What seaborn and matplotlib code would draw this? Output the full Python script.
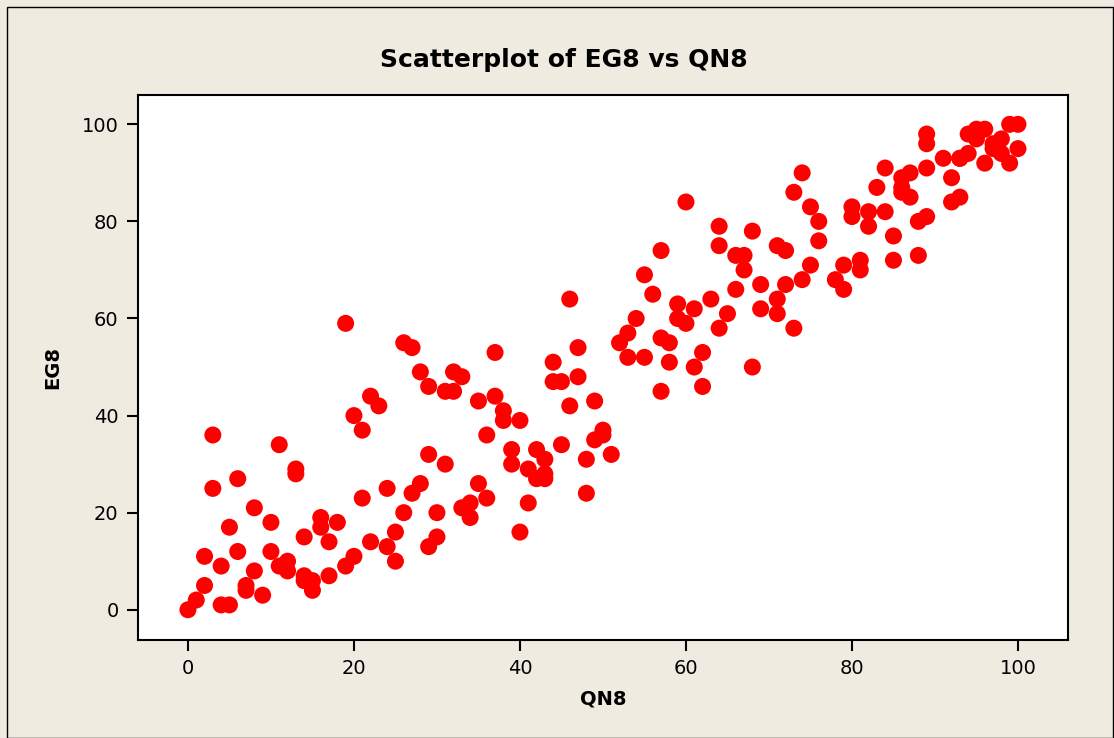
import numpy as np
import pandas as pd
import matplotlib
matplotlib.use("Agg")
import matplotlib.pyplot as plt
import seaborn as sns
from matplotlib.patches import Rectangle

# QN8 / EG8 values
qn8 = [0, 1, 2, 2, 3, 3, 4, 4, 5, 5, 6, 6, 7, 7, 8, 8, 9, 10, 10, 11,
       11, 12, 12, 13, 13, 14, 14, 14, 15, 15, 16, 16, 17, 17, 18, 19, 19, 20, 20, 21,
       21, 22, 22, 23, 24, 24, 25, 25, 26, 26, 27, 27, 28, 28, 29, 29, 29, 30, 30, 31,
       31, 32, 32, 33, 33, 34, 34, 35, 35, 36, 36, 37, 37, 38, 38, 39, 39, 40, 40, 41,
       41, 42, 42, 43, 43, 43, 44, 44, 45, 45, 46, 46, 47, 47, 48, 48, 49, 49, 50, 50,
       51, 52, 53, 53, 54, 55, 55, 56, 57, 57, 57, 58, 58, 59, 59, 60, 60, 61, 61, 62,
       62, 63, 64, 64, 64, 65, 66, 66, 67, 67, 68, 68, 69, 69, 71, 71, 71, 72, 72, 73,
       73, 74, 74, 75, 75, 76, 76, 78, 79, 79, 80, 80, 81, 81, 82, 82, 83, 84, 84, 85,
       85, 86, 86, 86, 87, 87, 88, 88, 89, 89, 89, 89, 91, 92, 92, 93, 93, 93, 94, 94,
       95, 95, 96, 96, 97, 97, 98, 98, 99, 99, 100, 100]
eg8 = [0, 2, 5, 11, 36, 25, 9, 1, 1, 17, 27, 12, 5, 4, 8, 21, 3, 18, 12, 34,
       9, 10, 8, 29, 28, 15, 7, 6, 6, 4, 19, 17, 14, 7, 18, 59, 9, 40, 11, 37,
       23, 44, 14, 42, 25, 13, 16, 10, 55, 20, 54, 24, 49, 26, 46, 32, 13, 20, 15, 45,
       30, 49, 45, 48, 21, 22, 19, 43, 26, 36, 23, 53, 44, 41, 39, 33, 30, 39, 16, 29,
       22, 33, 27, 31, 28, 27, 51, 47, 47, 34, 64, 42, 54, 48, 31, 24, 43, 35, 37, 36,
       32, 55, 57, 52, 60, 69, 52, 65, 74, 56, 45, 55, 51, 63, 60, 59, 84, 62, 50, 53,
       46, 64, 79, 75, 58, 61, 73, 66, 73, 70, 78, 50, 67, 62, 75, 64, 61, 74, 67, 86,
       58, 90, 68, 83, 71, 80, 76, 68, 71, 66, 83, 81, 72, 70, 82, 79, 87, 91, 82, 77,
       72, 89, 87, 86, 90, 85, 80, 73, 98, 96, 91, 81, 93, 89, 84, 85, 93, 93, 98, 94,
       99, 97, 99, 92, 96, 95, 97, 94, 100, 92, 100, 95]

df = pd.DataFrame({"QN8": qn8, "EG8": eg8})

sns.set_style("white")
plt.rcParams["font.family"] = ["DejaVu Sans"]
plt.rcParams["text.color"] = "black"
plt.rcParams["axes.labelcolor"] = "black"
plt.rcParams["xtick.color"] = "black"
plt.rcParams["ytick.color"] = "black"

bg = "#efebe1"
fig = plt.figure(figsize=(11.14, 7.38), dpi=100, facecolor=bg)
ax = fig.add_axes([0.124, 0.133, 0.8345, 0.738])

sns.scatterplot(data=df, x="QN8", y="EG8", ax=ax, color="#ff0000",
                edgecolor="none", s=150, linewidth=0, clip_on=False)

ax.set_xlim(-6.0, 106.0)
ax.set_ylim(-6.2, 106.0)
ax.set_xticks([0, 20, 40, 60, 80, 100])
ax.set_yticks([0, 20, 40, 60, 80, 100])
ax.tick_params(axis="both", direction="out", length=8, width=1.5,
               color="black", labelcolor="black", labelsize=14, pad=6,
               bottom=True, left=True)
for sp in ax.spines.values():
    sp.set_color("black")
    sp.set_linewidth(1.5)
    sp.set_visible(True)

ax.set_xlabel("QN8", fontsize=14, fontweight="bold", labelpad=8, color="black")
ax.set_ylabel("EG8", fontsize=14, fontweight="bold", labelpad=14, color="black")
fig.suptitle("Scatterplot of EG8 vs QN8", fontsize=18, fontweight="bold",
             x=0.506, y=0.935, color="black")

# thin frame around the whole graph window
fig.patches.append(Rectangle((0.006, 0.0), 0.993, 0.99, transform=fig.transFigure,
                             fill=False, edgecolor="black", linewidth=1.0))

fig.savefig("out.png", dpi=100, facecolor=bg)
